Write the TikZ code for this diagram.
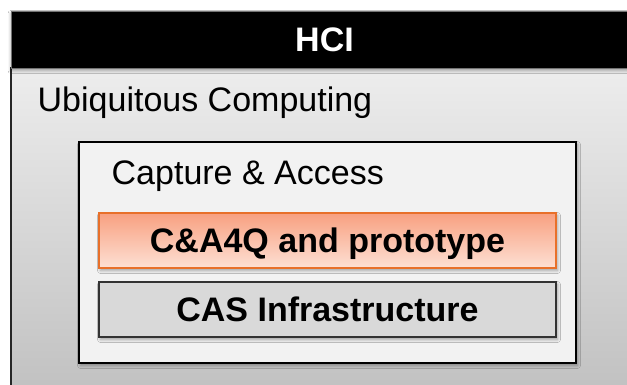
\documentclass[tikz,border=0pt]{standalone}
\usepackage{fontspec}
\setmainfont{Liberation Sans}
\usetikzlibrary{shadows.blur}
\definecolor{orTop}{HTML}{FDE0D4}
\definecolor{orBot}{HTML}{F8A080}
\definecolor{orLine}{HTML}{E8702A}
\definecolor{grFill}{HTML}{D9D9D9}
\definecolor{grLine}{HTML}{333333}
\definecolor{inFill}{HTML}{F2F2F2}
\definecolor{outTop}{HTML}{EDEDED}
\definecolor{outBot}{HTML}{BDBDBD}
\tikzset{
  lbl/.style={font=\fontsize{34}{40}\selectfont, inner sep=0pt},
  boldlbl/.style={font=\fontsize{34}{40}\selectfont\bfseries, inner sep=0pt},
  layerbox/.style={minimum width=457pt, minimum height=55pt, inner sep=0pt,
    text height=24pt, text depth=0pt, line width=1.4pt,
    blur shadow={shadow xshift=1.5pt, shadow yshift=-2.5pt, shadow blur radius=3pt, shadow opacity=35}},
  orbox/.style={layerbox, draw=orLine, top color=orBot, bottom color=orTop},
  grbox/.style={layerbox, draw=grLine, fill=grFill},
}
\begin{document}
\begin{tikzpicture}[x=1pt,y=-1pt]
\useasboundingbox (0,0) rectangle (627,385);
\clip (0,0) rectangle (627,385);
\fill[white] (0,0) rectangle (627,385);
% outer HCI box
\path[top color=outTop, bottom color=outBot, draw=black!85, line width=1.4pt]
  (11,68) rectangle (640,420);
\path[fill=black, draw=black!55, line width=0.8pt,
  blur shadow={shadow xshift=0pt, shadow yshift=-2.5pt, shadow blur radius=3pt, shadow opacity=35}]
  (11,11) rectangle (640,68);
\node[boldlbl, text=white, text height=24pt, text depth=0pt] (hci) at (324.5,39.5) {HCI};
\node[lbl, anchor=base west] (ubi) at (37.5,112) {Ubiquitous Computing};
% inner capture & access box
\path[fill=inFill, draw=black, line width=1.4pt,
  blur shadow={shadow xshift=1.5pt, shadow yshift=-2.5pt, shadow blur radius=3pt, shadow opacity=35}]
  (79,142) rectangle (576,363);
\node[lbl, anchor=base west] (cap) at (111.5,185) {Capture \& Access};
\node[orbox, boldlbl] (ca4q) at (327.5,240.5) {C\&A4Q and prototype};
\node[grbox, boldlbl] (cas) at (327.5,309.5) {CAS Infrastructure};
\end{tikzpicture}
\end{document}
